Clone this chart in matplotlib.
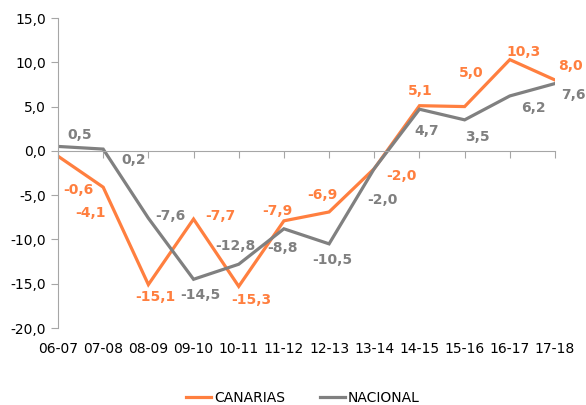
import matplotlib.pyplot as plt
from matplotlib.ticker import FuncFormatter
from matplotlib.lines import Line2D

# data
cursos = ['06-07', '07-08', '08-09', '09-10', '10-11', '11-12',
          '12-13', '13-14', '14-15', '15-16', '16-17', '17-18']
canarias = [-0.6, -4.1, -15.1, -7.7, -15.3, -7.9, -6.9, -2.0, 5.1, 5.0, 10.3, 8.0]
nacional = [0.5, 0.2, -7.6, -14.5, -12.8, -8.8, -10.5, -2.0, 4.7, 3.5, 6.2, 7.6]

# label offsets in pixels (dx, dy), hand placed
off_can = [(20, -34), (-13, -26), (7, -12), (27, 3), (13, -14), (-7, 10),
           (-7, 17), (27, -7), (1, 15), (7, 34), (14, 8), (15, 14)]
off_nac = [(22, 11), (31, -11), (22, 2), (7, -16), (-3, 18), (-1, -19),
           (3, -16), (8, -31), (7, -22), (13, -17), (24, -12), (18, -11)]

ORANGE = '#ff7f3f'
GREY = '#808080'
FONT = 'DejaVu Sans'

fig = plt.figure(figsize=(5.86, 4.05), dpi=100)
ax = fig.add_axes([58 / 586, 1 - 328 / 405, (555 - 58) / 586, (328 - 18) / 405])

x = list(range(len(cursos)))
ax.plot(x, canarias, color=ORANGE, lw=2.3, solid_joinstyle='miter')
ax.plot(x, nacional, color=GREY, lw=2.3, solid_joinstyle='miter')

for xi, v, o in zip(x, canarias, off_can):
    ax.annotate(('%.1f' % v).replace('.', ','), (xi, v), xytext=o,
                textcoords='offset pixels', ha='center', va='center',
                color=ORANGE, fontsize=10, fontweight='bold', family=FONT)
for xi, v, o in zip(x, nacional, off_nac):
    ax.annotate(('%.1f' % v).replace('.', ','), (xi, v), xytext=o,
                textcoords='offset pixels', ha='center', va='center',
                color=GREY, fontsize=10, fontweight='bold', family=FONT)

ax.set_xlim(0, len(cursos) - 1)
ax.set_ylim(-20, 15)
ax.set_yticks([15, 10, 5, 0, -5, -10, -15, -20])
ax.yaxis.set_major_formatter(FuncFormatter(lambda v, p: ('%.1f' % v).replace('.', ',')))

for s in ['top', 'right']:
    ax.spines[s].set_visible(False)
ax.spines['left'].set_color('#a6a6a6')
ax.spines['bottom'].set_position(('data', 0))
ax.spines['bottom'].set_color('#a6a6a6')
ax.tick_params(axis='y', colors='#a6a6a6', length=5, labelcolor='black', labelsize=10)
ax.set_xticks(x)
ax.tick_params(axis='x', colors='#a6a6a6', length=5, labelbottom=False)

# category labels at the bottom of the plot
sec = ax.secondary_xaxis('bottom')
sec.set_xticks(x)
sec.set_xticklabels(cursos, fontsize=10, family=FONT)
sec.tick_params(length=0, pad=10)
sec.spines['bottom'].set_visible(False)

handles = [Line2D([], [], color=ORANGE, lw=2.3), Line2D([], [], color=GREY, lw=2.3)]
fig.legend(handles, ['CANARIAS', 'NACIONAL'], loc='center',
           bbox_to_anchor=(303 / 586, 1 - 398 / 405), ncol=2, frameon=False,
           fontsize=10, handlelength=1.8, handletextpad=0.2, columnspacing=2.5)

fig.savefig('out.png', dpi=100)
